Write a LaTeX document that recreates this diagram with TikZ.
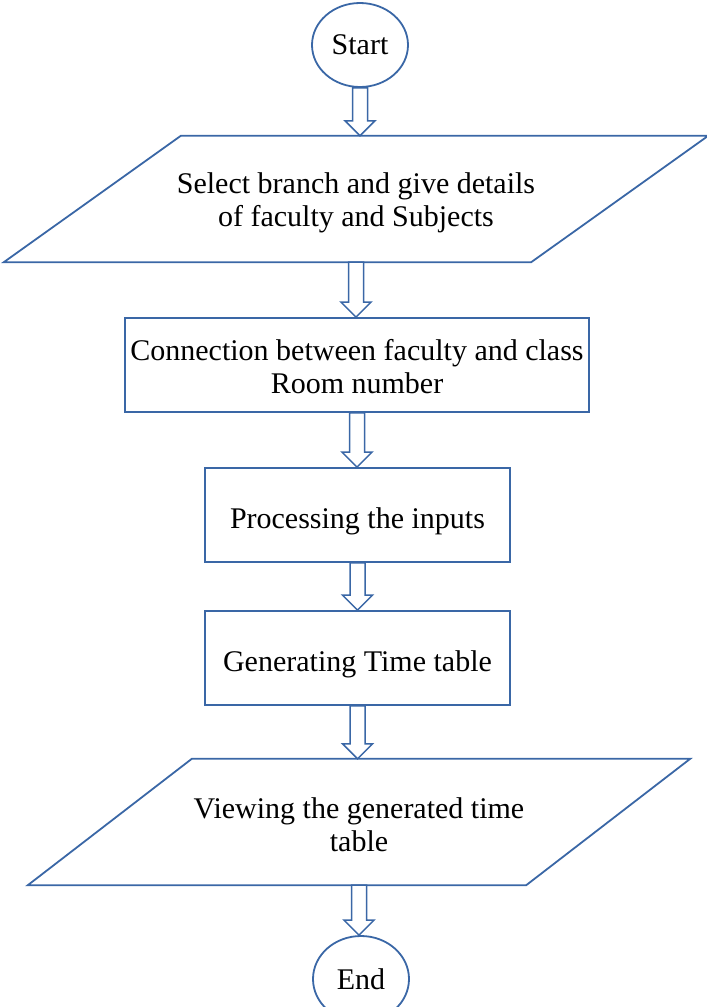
\documentclass[tikz,border=0pt]{standalone}
\usepackage{fontspec}
\setmainfont{Liberation Serif}
\usetikzlibrary{shapes.geometric, calc}
\definecolor{flowblue}{HTML}{3A67A6}
\tikzset{txt/.style={align=center, inner sep=0pt, font=\fontsize{30}{33}\selectfont},
         box/.style={draw=flowblue, line width=1.8pt, minimum height=94pt, inner sep=0pt},
         terminal/.style={box, txt, ellipse, minimum width=96pt, minimum height=84pt},
         io/.style={inner sep=0pt, minimum height=126pt},
         outline/.style={draw=flowblue, line width=1.8pt, line join=miter},
         flow/.style={draw=flowblue, line width=1.5pt, fill=white, line join=miter},
        }
% hollow block arrow from one node to the next
\newcommand{\flowarrow}[2]{%
  \draw[flow] let \p1=(#1.south), \p2=(#2.north) in
    (\x1-7.5pt,\y1) -- (\x1+7.5pt,\y1) -- (\x1+7.5pt,\y2+15pt) -- (\x1+15pt,\y2+15pt)
    -- (\x1,\y2) -- (\x1-15pt,\y2+15pt) -- (\x1-7.5pt,\y2+15pt) -- cycle;}

\begin{document}
\begin{tikzpicture}[x=1pt,y=-1pt]
        \useasboundingbox (0,0) rectangle (707,1007);

        \node[terminal](start)at(360,45){Start};
        \node[io,minimum width=527pt,label={[txt,yshift=-4pt]center:Select branch and give details\\of faculty and Subjects}](sel)at(356,199){};
        \node[box,minimum width=464pt,label={[txt,yshift=-2pt]center:Connection between faculty and class\\Room number}](conn)at(357,365){};
        \node[box,minimum width=305pt,label={[txt,yshift=-6pt]center:Processing the inputs}](proc)at(357.5,515){};
        \node[box,minimum width=305pt,label={[txt,yshift=-6pt]center:Generating Time table}](gen)at(357.5,658){};
        \node[io,minimum width=498pt,label={[txt,yshift=-3pt]center:Viewing the generated time\\table}](view)at(359,822){};
        \node[terminal,minimum height=86pt](end)at(361,979){End};

        % slanted input/output boxes
        \draw[outline]([xshift=88.5pt]sel.north west)--([xshift=88.5pt]sel.north east)
            --([xshift=-88.5pt]sel.south east)--([xshift=-88.5pt]sel.south west)--cycle;
        \draw[outline]([xshift=82pt]view.north west)--([xshift=82pt]view.north east)
            --([xshift=-82pt]view.south east)--([xshift=-82pt]view.south west)--cycle;

        \flowarrow{start}{sel}
        \flowarrow{sel}{conn}
        \flowarrow{conn}{proc}
        \flowarrow{proc}{gen}
        \flowarrow{gen}{view}
        \flowarrow{view}{end}
    \end{tikzpicture}
\end{document}
